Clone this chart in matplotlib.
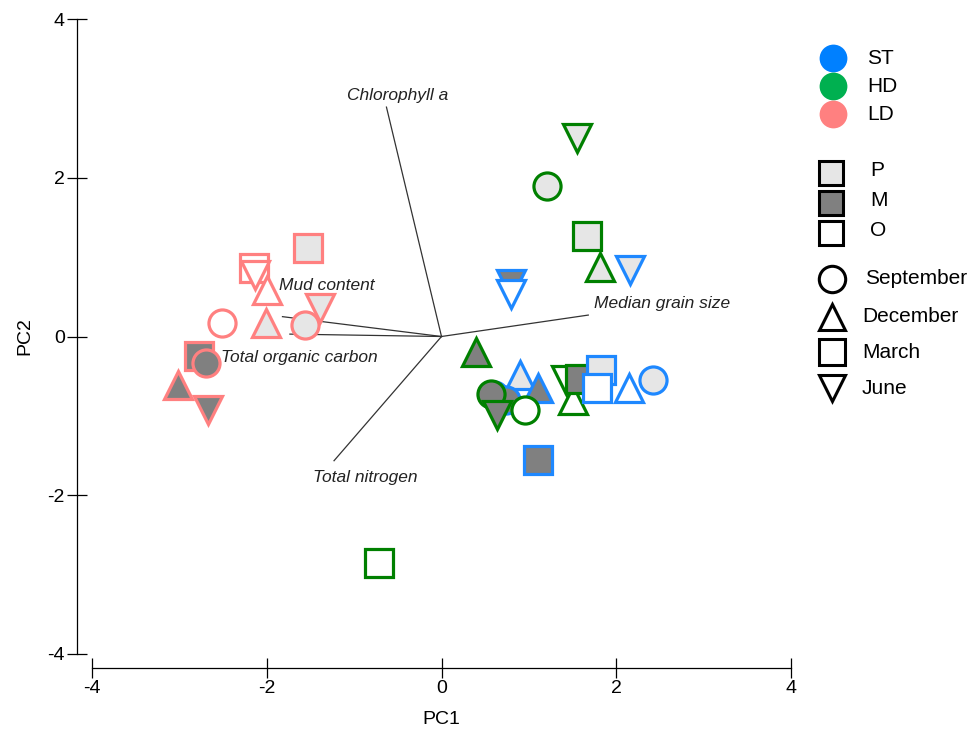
import matplotlib.pyplot as plt

plt.rcParams['font.family'] = ['Liberation Sans', 'DejaVu Sans']
plt.rcParams['axes.unicode_minus'] = False

# PCA scores: site, sediment type, month, PC1, PC2
sites = ['ST'] * 9 + ['HD'] * 12 + ['ST'] * 3 + ['LD'] * 12
types = (['P', 'P', 'M', 'O', 'M', 'M', 'O', 'P', 'O']
         + ['P', 'P', 'P', 'P', 'M', 'M', 'M', 'O', 'O', 'O', 'M', 'O']
         + ['M', 'P', 'O']
         + ['P', 'O', 'O', 'O', 'P', 'O', 'P', 'P', 'M', 'M', 'M', 'M'])
months = (['Jun', 'Dec', 'Dec', 'Sep', 'Sep', 'Jun', 'Jun', 'Sep', 'Dec']
          + ['Jun', 'Sep', 'Mar', 'Dec', 'Dec', 'Sep', 'Jun', 'Sep', 'Jun', 'Dec', 'Mar', 'Mar']
          + ['Mar', 'Mar', 'Mar']
          + ['Mar', 'Mar', 'Jun', 'Dec', 'Dec', 'Sep', 'Sep', 'Jun', 'Mar', 'Sep', 'Dec', 'Jun'])
pc1 = ([2.16, 0.90, 1.10, 0.60, 0.74, 0.80, 0.79, 2.42, 2.15]
       + [1.55, 1.21, 1.66, 1.81, 0.40, 0.57, 0.63, 0.96, 1.42, 1.50, 1.59, -0.71]
       + [1.10, 1.82, 1.78]
       + [-1.53, -2.15, -2.14, -2.0, -2.01, -2.51, -1.56, -1.39, -2.78, -2.70, -3.02, -2.67])
pc2 = ([0.84, -0.49, -0.65, -0.74, -0.80, 0.66, 0.54, -0.55, -0.65]
       + [2.50, 1.90, 1.26, 0.88, -0.20, -0.72, -0.99, -0.93, -0.55, -0.80, -0.53, -2.85]
       + [-1.56, -0.42, -0.65]
       + [1.11, 0.86, 0.78, 0.59, 0.17, 0.17, 0.15, 0.36, -0.25, -0.34, -0.61, -0.92])

# environmental vectors
var_names = ['Chlorophyll a', 'Median grain size', 'Mud content',
             'Total organic carbon', 'Total nitrogen']
var_x = [-0.63, 1.68, -1.82, -1.735, -1.23]
var_y = [2.89, 0.27, 0.25, 0.03, -1.565]

edge_col = {'ST': '#1E88FF', 'HD': '#008000', 'LD': '#FF8080'}
legend_col = {'ST': '#0080FF', 'HD': '#00B050', 'LD': '#FF8080'}
fill_col = {'P': '#E6E6E6', 'M': '#808080', 'O': 'white'}
marker = {'Sep': 'o', 'Dec': '^', 'Mar': 's', 'Jun': 'v'}

fig = plt.figure(figsize=(9.79, 7.31), dpi=100)
ax = fig.add_axes([92 / 979, 1 - 654 / 731, 699 / 979, 635 / 731])

# biplot lines and labels
for name, vx, vy in zip(var_names, var_x, var_y):
    ax.plot([0, vx], [0, vy], color='#333333', lw=0.9, zorder=1)
txt = dict(fontsize=12.5, style='italic', color='#222222', zorder=5)
ax.text(-0.50, 3.03, var_names[0], ha='center', va='center', **txt)
ax.text(1.75, 0.42, var_names[1], ha='left', va='center', **txt)
ax.text(-1.86, 0.64, var_names[2], ha='left', va='center', **txt)
ax.text(-2.52, -0.27, var_names[3], ha='left', va='center', **txt)
ax.text(-0.87, -1.78, var_names[4], ha='center', va='center', **txt)

for s, t, m, x, y in zip(sites, types, months, pc1, pc2):
    ax.plot(x, y, marker=marker[m], ms=19.5, mfc=fill_col[t], mec=edge_col[s],
            mew=2.3, ls='none', zorder=3)

ax.set_xlim(-4, 4)
ax.set_ylim(-4, 4)
ax.set_xticks([-4, -2, 0, 2, 4])
ax.set_yticks([-4, -2, 0, 2, 4])
ax.spines[['top', 'right']].set_visible(False)
ax.spines['left'].set_position(('outward', 11))
ax.spines['bottom'].set_position(('outward', 10))
for sp in ['left', 'bottom']:
    ax.spines[sp].set_linewidth(0.9)
ax.tick_params(direction='inout', length=15, width=0.9, labelsize=14, pad=1)
ax.set_xlabel('PC1', fontsize=14, labelpad=10)
ax.set_ylabel('PC2', fontsize=14, labelpad=10)

# legend drawn in pixel coordinates on the right
lax = fig.add_axes([0.82, 0, 0.18, 1])
lax.set_xlim(803, 979)
lax.set_ylim(731, 0)
lax.axis('off')
for i, s in enumerate(['ST', 'HD', 'LD']):
    yy = 58 + i * 28
    lax.plot(833, yy, 'o', ms=20, mfc=legend_col[s], mec=legend_col[s], mew=0)
    lax.text(867, yy, s, fontsize=15, va='center')
for i, t in enumerate(['P', 'M', 'O']):
    yy = 173 + i * 30
    lax.plot(831, yy, 's', ms=17, mfc=fill_col[t], mec='black', mew=2.2)
    lax.text(870, yy - 3, t, fontsize=15, va='center')
for i, (m, lab) in enumerate(zip(['Sep', 'Dec', 'Mar', 'Jun'],
                                 ['September', 'December', 'March', 'June'])):
    yy = [279, 317, 352, 388][i]
    lax.plot(832, yy, marker[m], ms=19, mfc='white', mec='black', mew=2.2)
    lax.text(862 if i > 0 else 865, yy, lab, fontsize=15, va='center')

fig.savefig('out.png', dpi=100)
